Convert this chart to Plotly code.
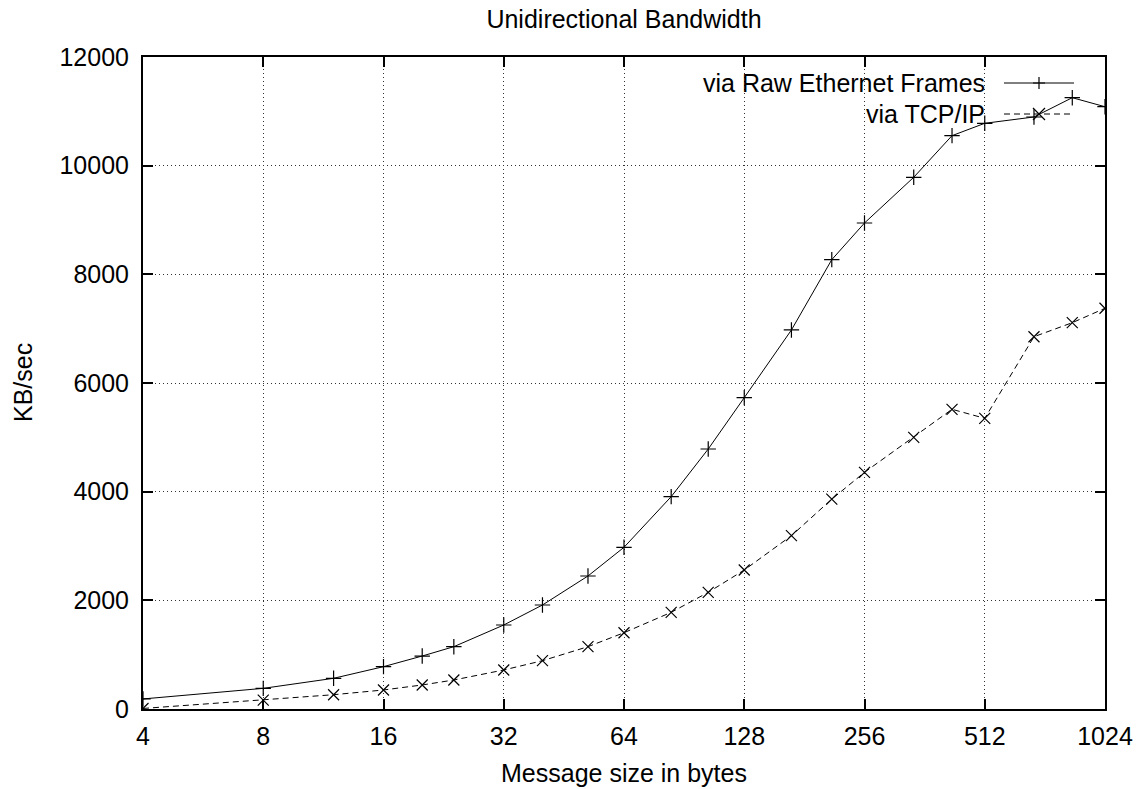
import math
import plotly.graph_objects as go

# ---- data ----
sizes = [4, 8, 12, 16, 20, 24, 32, 40, 52, 64, 84, 104, 128, 168, 212, 256, 340, 424, 512, 680, 848, 1024]
raw_eth = [185, 380, 565, 779, 975, 1147, 1546, 1914, 2448, 2976, 3908, 4785, 5730, 6976, 8270, 8945,
           9786, 10552, 10780, 10896, 11251, 11085]
tcp_ip = [10, 163, 263, 350, 442, 534, 718, 889, 1147, 1404, 1779, 2147, 2558, 3190, 3862, 4356,
          5000, 5516, 5350, 6852, 7110, 7375]
x_ticks = [4, 8, 16, 32, 64, 128, 256, 512, 1024]
y_ticks = [0, 2000, 4000, 6000, 8000, 10000, 12000]
series_names = ["via Raw Ethernet Frames", "via TCP/IP"]

W, H = 1144, 789
L, R, T, B = 143, 1105, 57, 709
FONT = "Liberation Sans, Arial, Helvetica, sans-serif"
FS = 25


def px_x(p):
    return (p - L) / (R - L)


def px_y(p):
    return (B - p) / (B - T)


fig = go.Figure()
fig.add_trace(go.Scatter(
    x=sizes, y=raw_eth, mode="lines+markers", name=series_names[0],
    line=dict(color="black", width=1),
    marker=dict(symbol="cross-thin-open", size=11, color="black", line=dict(color="black", width=1.2)),
    showlegend=False))
fig.add_trace(go.Scatter(
    x=sizes, y=tcp_ip, mode="lines+markers", name=series_names[1],
    line=dict(color="black", width=1, dash="6px,4px"),
    marker=dict(symbol="x-thin-open", size=11, color="black", line=dict(color="black", width=1.2)),
    showlegend=False))

axis_common = dict(
    showline=True, linecolor="black", linewidth=2, mirror="ticks",
    ticks="inside", ticklen=10, tickwidth=1.5, tickcolor="black",
    showgrid=True, gridcolor="#333", gridwidth=1, griddash="1px,3px",
    zeroline=False,
    tickfont=dict(family=FONT, size=FS, color="black"),
)

fig.update_xaxes(type="log", range=[math.log10(4), math.log10(1024)],
                 tickvals=x_ticks, ticktext=[str(v) for v in x_ticks],
                 ticklabelstandoff=4, **axis_common)
fig.update_yaxes(range=[0, 12000], tickvals=y_ticks, ticktext=[str(v) for v in y_ticks],
                 ticklabelstandoff=7, **axis_common)

# key area blanks the grid lines (as gnuplot does)
fig.add_shape(type="rect", xref="paper", yref="paper",
              x0=px_x(690), x1=px_x(1082), y0=px_y(118), y1=px_y(68),
              fillcolor="white", line=dict(width=0), layer="between")

# key: text right aligned, sample line and marker to the right
key_rows = [83, 114]
dashes = ["solid", "6px,4px"]
mark_paths = ["M-6,0 L6,0 M0,-6 L0,6", "M-6,-6 L6,6 M-6,6 L6,-6"]
for name, yr, dsh, mp in zip(series_names, key_rows, dashes, mark_paths):
    fig.add_annotation(x=px_x(987), y=px_y(yr), xref="paper", yref="paper",
                       text=name, showarrow=False, xanchor="right", yanchor="middle",
                       font=dict(family=FONT, size=FS, color="black"))
    fig.add_shape(type="line", xref="paper", yref="paper",
                  x0=px_x(1004), x1=px_x(1074), y0=px_y(yr), y1=px_y(yr),
                  line=dict(color="black", width=1, dash=dsh), layer="above")
    fig.add_shape(type="path", xref="paper", yref="paper",
                  xsizemode="pixel", ysizemode="pixel",
                  xanchor=px_x(1039), yanchor=px_y(yr), path=mp,
                  line=dict(color="black", width=1.2), layer="above")

# axis titles
fig.add_annotation(x=0.5, y=px_y(773), xref="paper", yref="paper",
                   text="Message size in bytes", showarrow=False,
                   xanchor="center", yanchor="middle",
                   font=dict(family=FONT, size=FS, color="black"))
fig.add_annotation(x=px_x(23), y=0.5, xref="paper", yref="paper",
                   text="KB/sec", showarrow=False, textangle=-90,
                   xanchor="center", yanchor="middle",
                   font=dict(family=FONT, size=FS, color="black"))

fig.update_layout(
    width=W, height=H,
    margin=dict(l=L, r=W - R, t=T, b=H - B),
    paper_bgcolor="white", plot_bgcolor="white",
    title=dict(text="Unidirectional Bandwidth", x=(L + R) / 2 / W, xanchor="center",
               y=1 - 19 / H, yanchor="middle", yref="container",
               font=dict(family=FONT, size=FS, color="black")),
    font=dict(family=FONT, size=FS, color="black"),
    showlegend=False,
)

fig.write_html("out.html", config={"displayModeBar": False},
               post_script="document.body.style.margin='0';document.body.style.overflow='hidden';")
